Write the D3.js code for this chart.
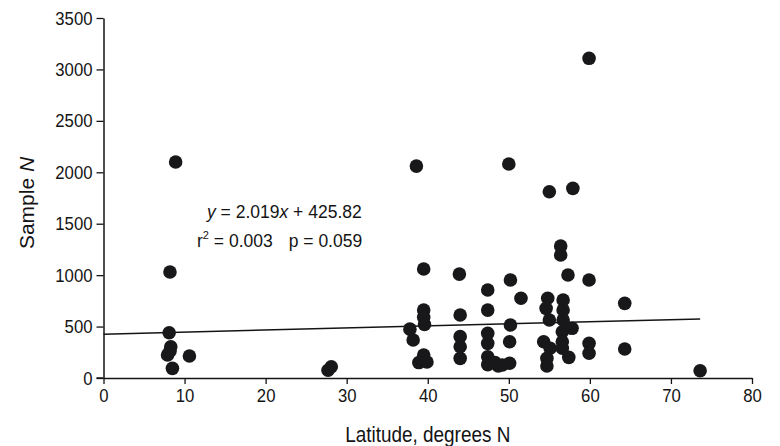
<!DOCTYPE html>
<html>
<head>
<meta charset="utf-8">
<script src="https://cdn.jsdelivr.net/npm/d3@7"></script>
<style>
  html, body { margin: 0; padding: 0; background: #fff; }
  svg { display: block; }
  text { font-family: "Liberation Sans", Arial, Helvetica, sans-serif; fill: #141414; }
</style>
</head>
<body>
<svg id="chart" width="780" height="446"></svg>
<script>
// ---- Data ----
const latitude = [
  8.9, 8.2, 8.1, 8.3, 7.9, 8.5, 10.6, 8.2,
  27.7, 28.1,
  38.6, 39.5, 39.5, 39.5, 39.6, 37.8, 38.2, 39.5, 38.9, 39.9,
  43.9, 44.0, 44.0, 44.0, 44.0,
  47.4, 47.4, 47.4, 47.4, 47.4, 47.4, 48.3, 48.7,
  50.0, 50.2, 51.5, 50.2, 50.1, 50.1, 49.2,
  55.0, 54.8, 54.6, 55.0, 54.3, 55.1, 54.7, 54.7,
  56.4, 56.4, 57.3, 56.7, 56.7, 56.7, 57.8, 56.6, 56.6, 56.6, 57.4,
  57.9, 59.9, 59.9, 59.9, 59.9,
  64.3, 64.3, 73.6
];
const sampleN = [
  2100, 1030, 440, 304, 224, 94, 214, 260,
  75, 110,
  2060, 1060, 661, 590, 520, 475, 370, 224, 150, 155,
  1010, 612, 402, 304, 191,
  855, 660, 434, 337, 207, 130, 150, 117,
  2080, 953, 775, 515, 353, 143, 126,
  1811, 775, 677, 564, 353, 289, 191, 117,
  1283, 1196, 1001, 758, 661, 564, 483, 450, 353, 289, 201,
  1844, 3108, 953, 337, 240,
  726, 282, 71
];
const xTicks = [0, 10, 20, 30, 40, 50, 60, 70, 80];
const yTicks = [0, 500, 1000, 1500, 2000, 2500, 3000, 3500];
const fitSlope = 2.019;
const fitIntercept = 425.82;
const fitRange = [0, 73.6];
const xTitle = "Latitude, degrees N";
const yTitle = "Sample ";
const yTitleItalic = "N";

// ---- Layout ----
const svg = d3.select("#chart");
const x = d3.scaleLinear().domain([0, 80]).range([103.5, 752]);
const y = d3.scaleLinear().domain([0, 3500]).range([378, 18]);

// horizontally condense text (reference type is tall and narrow)
function condense(sel, k) {
  sel.each(function () {
    const w = this.getComputedTextLength();
    d3.select(this).attr("textLength", w * k).attr("lengthAdjust", "spacingAndGlyphs");
  });
}

// Regression line
const line = d3.line().x(d => x(d)).y(d => y(fitSlope * d + fitIntercept));
svg.append("path")
  .attr("d", line(fitRange))
  .attr("fill", "none")
  .attr("stroke", "#141414")
  .attr("stroke-width", 1.5);

// Points
svg.append("g").selectAll("circle")
  .data(latitude.map((d, i) => [d, sampleN[i]]))
  .join("circle")
  .attr("cx", d => x(d[0]))
  .attr("cy", d => y(d[1]))
  .attr("r", 6.8)
  .attr("fill", "#18181a");

// Axes
const xAxis = svg.append("g")
  .attr("transform", `translate(0,${y(0)})`)
  .call(d3.axisBottom(x).tickValues(xTicks).tickFormat(d3.format("d"))
    .tickSize(6).tickPadding(5).tickSizeOuter(0));
const yAxis = svg.append("g")
  .attr("transform", `translate(${x(0)},0)`)
  .call(d3.axisLeft(y).tickValues(yTicks).tickFormat(d3.format("d"))
    .tickSize(7).tickPadding(4).tickSizeOuter(0));

[xAxis, yAxis].forEach(g => {
  g.select(".domain").attr("stroke", "#141414").attr("stroke-width", 1.5);
  g.selectAll(".tick line").attr("stroke", "#141414").attr("stroke-width", 1.3);
  g.selectAll(".tick text")
    .attr("font-size", 19)
    .attr("font-family", "'Liberation Sans', Arial, sans-serif")
    .attr("fill", "#141414")
    .call(condense, 0.88);
});
// x-axis line reaches slightly left of the y axis
svg.append("line")
  .attr("x1", x(0) - 7).attr("x2", x(0))
  .attr("y1", y(0)).attr("y2", y(0))
  .attr("stroke", "#141414").attr("stroke-width", 1.5);

// Axis titles
svg.append("text")
  .attr("x", (x(0) + x(80)) / 2)
  .attr("y", 442)
  .attr("text-anchor", "middle")
  .attr("font-size", 22)
  .text(xTitle)
  .call(condense, 0.86);

const yt = svg.append("text")
  .attr("transform", `translate(34,203) rotate(-90)`)
  .attr("text-anchor", "middle")
  .attr("font-size", 21);
yt.append("tspan").text(yTitle);
yt.append("tspan").attr("font-style", "italic").text(yTitleItalic);

// Annotation
const eq = svg.append("text").attr("x", 207).attr("y", 218).attr("font-size", 17.5);
eq.append("tspan").attr("font-style", "italic").text("y");
eq.append("tspan").text(" = " + fitSlope.toFixed(3));
eq.append("tspan").attr("font-style", "italic").text("x");
eq.append("tspan").text(" + " + fitIntercept.toFixed(2));

const st = svg.append("text").attr("x", 197).attr("y", 247).attr("font-size", 17.5);
st.append("tspan").text("r");
st.append("tspan").attr("font-size", 11).attr("dy", -8).text("2");
st.append("tspan").attr("dy", 8).text(" = 0.003");
st.append("tspan").attr("dx", 16).text("p = 0.059");
</script>
</body>
</html>
